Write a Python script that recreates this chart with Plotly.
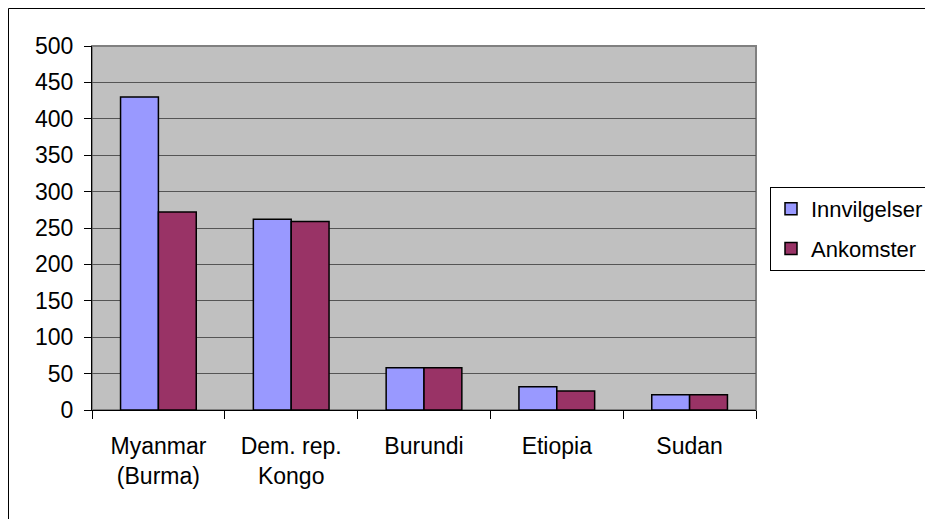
import plotly.graph_objects as go

categories = ["Myanmar<br>(Burma)", "Dem. rep.<br>Kongo", "Burundi", "Etiopia", "Sudan"]
innvilgelser = [430, 262, 58, 32, 21]
ankomster = [272, 259, 58, 26, 21]
y_ticks = [0, 50, 100, 150, 200, 250, 300, 350, 400, 450, 500]

OFF = 8  # default page body margin
W, H = 933 - OFF, 519 - OFF
L, R, T, B = 92 - OFF, 756 - OFF, 46 - OFF, 410 - OFF

fig = go.Figure()
fig.add_trace(go.Bar(name="Innvilgelser", x=categories, y=innvilgelser, legendgroup="a",
                     marker=dict(color="#9999FF", line=dict(color="black", width=1.5))))
fig.add_trace(go.Bar(name="Ankomster", x=categories, y=ankomster, legendgroup="b",
                     marker=dict(color="#993366", line=dict(color="black", width=1.5))))

pw, ph = R - L, B - T


def px_x(x):
    return (x - OFF - L) / pw


def px_y(y):
    return (B - (y - OFF)) / ph


fig.update_layout(
    width=W, height=H,
    margin=dict(l=L, r=W - R, t=T, b=H - B, pad=0, autoexpand=False),
    paper_bgcolor="white", plot_bgcolor="#C0C0C0",
    font=dict(family="Liberation Sans, Arial, sans-serif", size=23, color="black"),
    barmode="group", bargap=0.43, bargroupgap=0,
    showlegend=True,
    legend=dict(xref="container", yref="container",
                x=(770 - OFF) / W, y=1 - (187 - OFF) / H, xanchor="left", yanchor="top",
                bordercolor="black", borderwidth=1, bgcolor="white",
                font=dict(size=22), tracegroupgap=8, itemwidth=30),
    shapes=[
        dict(type="rect", xref="paper", yref="paper",
             x0=px_x(8.5), x1=px_x(1100), y0=px_y(800), y1=px_y(8.5),
             line=dict(color="black", width=1), layer="above"),
        dict(type="rect", xref="paper", yref="paper", x0=0, x1=1, y0=0, y1=1,
             line=dict(color="#808080", width=2), layer="below"),
    ],
)
fig.update_xaxes(showline=True, linecolor="black", linewidth=1, ticks="outside",
                 tickson="boundaries", ticklen=8, tickcolor="black", showgrid=False,
                 ticklabelstandoff=15)
fig.update_yaxes(range=[0, 500], tickvals=y_ticks, showline=True, linecolor="black",
                 linewidth=1, ticks="outside", ticklen=7, tickcolor="black",
                 showgrid=True, gridcolor="#555555", gridwidth=1, zeroline=False,
                 ticklabelstandoff=6)

fig.write_html("out.html")
